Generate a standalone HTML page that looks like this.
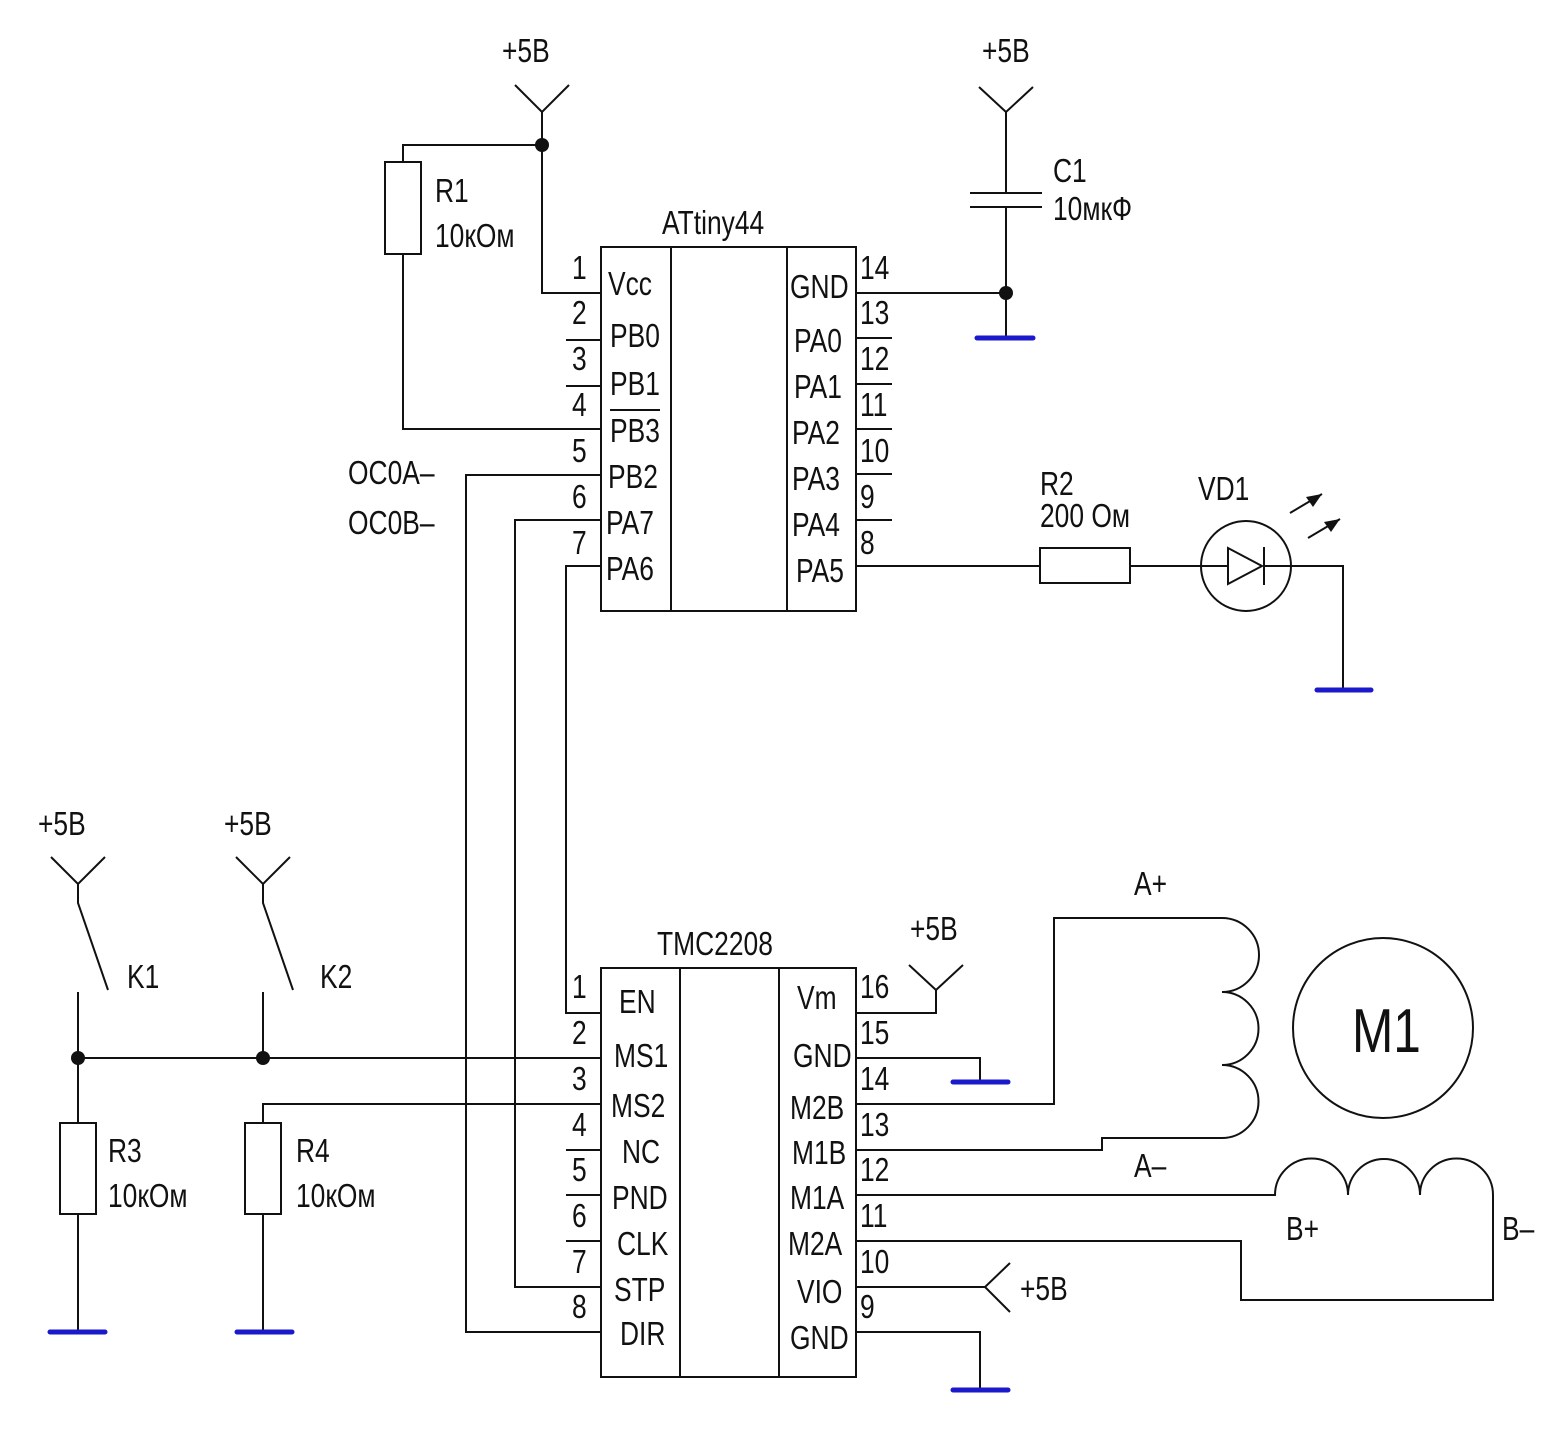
<!DOCTYPE html>
<html><head><meta charset="utf-8"><style>body{margin:0;background:#fff}svg{display:block}
text{font-family:"Liberation Sans Narrow","Liberation Sans",sans-serif;font-size:33px;fill:#111;transform-box:fill-box;transform-origin:left center;transform:scaleX(0.8)}
</style></head><body>
<svg width="1560" height="1456" viewBox="0 0 1560 1456" xmlns="http://www.w3.org/2000/svg">
<g fill="none" stroke="#111" stroke-width="2">
<rect x="601" y="247" width="255" height="364"/>
<line x1="671" y1="247" x2="671" y2="611"/><line x1="787" y1="247" x2="787" y2="611"/>
<polyline points="515,85 542,112 569,85"/>
<polyline points="542,112 542,293 601,293"/>
<polyline points="542,145 403,145 403,162"/>
<rect x="385" y="162" width="36" height="92"/>
<polyline points="403,254 403,429 601,429"/>
<line x1="566" y1="340" x2="601" y2="340"/><line x1="566" y1="386" x2="601" y2="386"/>
<line x1="610" y1="410" x2="660" y2="410"/>
<polyline points="601,475 466,475 466,1332 601,1332"/>
<polyline points="601,520 515,520 515,1287 601,1287"/>
<polyline points="601,566 566,566 566,1013 601,1013"/>
<line x1="856" y1="293" x2="1006" y2="293"/>
<line x1="856" y1="338" x2="892" y2="338"/><line x1="856" y1="384" x2="892" y2="384"/>
<line x1="856" y1="429" x2="892" y2="429"/><line x1="856" y1="474" x2="892" y2="474"/>
<line x1="856" y1="520" x2="892" y2="520"/>
<line x1="856" y1="566" x2="1040" y2="566"/>
<polyline points="979,87 1006,112 1033,87"/>
<line x1="1006" y1="112" x2="1006" y2="193"/>
<line x1="970" y1="193" x2="1042" y2="193"/><line x1="970" y1="207" x2="1042" y2="207"/>
<line x1="1006" y1="207" x2="1006" y2="338"/>
<rect x="1040" y="548" width="90" height="35"/>
<line x1="1130" y1="566" x2="1201" y2="566"/>
<circle cx="1246" cy="566" r="45"/>
<line x1="1201" y1="566" x2="1228" y2="566"/>
<polygon points="1228,548 1228,584 1262,566"/>
<line x1="1264" y1="547" x2="1264" y2="585"/>
<polyline points="1264,566 1343,566 1343,690"/>
<line x1="1290" y1="513" x2="1322" y2="494"/><line x1="1308" y1="538" x2="1340" y2="519"/>
<rect x="601" y="968" width="255" height="409"/>
<line x1="680" y1="968" x2="680" y2="1377"/><line x1="779" y1="968" x2="779" y2="1377"/>
<line x1="78" y1="1058" x2="601" y2="1058"/>
<polyline points="263,1123 263,1104 601,1104"/>
<line x1="566" y1="1150" x2="601" y2="1150"/><line x1="566" y1="1195" x2="601" y2="1195"/>
<line x1="566" y1="1241" x2="601" y2="1241"/>
<polyline points="909,965 936,990 963,965"/>
<polyline points="936,990 936,1013 856,1013"/>
<polyline points="856,1058 980,1058 980,1082"/>
<polyline points="856,1104 1054,1104 1054,918 1222,918"/>
<path d="M1222,918 A36,36 0 0 1 1222,992 A36,36 0 0 1 1222,1065 A36,36 0 0 1 1222,1138 L1102,1138 L1102,1150 L856,1150"/>
<path d="M856,1195 L1275,1195 A36,36 0 0 1 1348,1195 A36,36 0 0 1 1420,1195 A36,36 0 0 1 1493,1195 L1493,1300 L1241,1300 L1241,1241 L856,1241"/>
<polyline points="856,1287 985,1287"/>
<polyline points="1010,1263 985,1287 1010,1312"/>
<polyline points="856,1332 980,1332 980,1390"/>
<circle cx="1383" cy="1028" r="90"/>
<polyline points="51,857 78,884 105,857"/>
<polyline points="78,884 78,903 108,990"/>
<line x1="78" y1="992" x2="78" y2="1123"/>
<rect x="60" y="1123" width="36" height="91"/>
<line x1="78" y1="1214" x2="78" y2="1332"/>
<polyline points="236,857 263,884 290,857"/>
<polyline points="263,884 263,903 293,990"/>
<line x1="263" y1="992" x2="263" y2="1058"/>
<rect x="245" y="1123" width="36" height="91"/>
<line x1="263" y1="1214" x2="263" y2="1332"/>
</g>
<g fill="#111">
<polygon points="1322,494 1306,497 1313,507"/><polygon points="1340,519 1324,522 1331,532"/>
<circle cx="542" cy="145" r="7"/><circle cx="1006" cy="293" r="7"/>
<circle cx="78" cy="1058" r="7"/><circle cx="263" cy="1058" r="7"/>
</g>
<g stroke="#1a1acc" stroke-width="5" stroke-linecap="round">
<line x1="977" y1="338" x2="1033" y2="338"/><line x1="1317" y1="690" x2="1371" y2="690"/>
<line x1="953" y1="1082" x2="1008" y2="1082"/><line x1="953" y1="1390" x2="1008" y2="1390"/>
<line x1="50" y1="1332" x2="105" y2="1332"/><line x1="237" y1="1332" x2="292" y2="1332"/>
</g>
<text x="502" y="62">+5В</text><text x="982" y="62">+5В</text>
<text x="435" y="202">R1</text><text x="435" y="247">10кОм</text>
<text x="662" y="234">ATtiny44</text>
<text x="1053" y="182">C1</text><text x="1053" y="220">10мкФ</text>
<text x="1040" y="495">R2</text><text x="1040" y="527">200 Ом</text>
<text x="1198" y="500">VD1</text>
<text x="348" y="484">OC0A–</text><text x="348" y="534">OC0B–</text>
<text x="608" y="295">Vcc</text><text x="610" y="347">PB0</text><text x="610" y="395">PB1</text>
<text x="610" y="442">PB3</text><text x="608" y="488">PB2</text><text x="606" y="534">PA7</text><text x="606" y="580">PA6</text>
<text x="790" y="298">GND</text><text x="794" y="352">PA0</text><text x="794" y="398">PA1</text>
<text x="792" y="444">PA2</text><text x="792" y="490">PA3</text><text x="792" y="536">PA4</text><text x="796" y="582">PA5</text>
<text x="572" y="279">1</text><text x="572" y="324">2</text><text x="572" y="370">3</text><text x="572" y="416">4</text>
<text x="572" y="462">5</text><text x="572" y="508">6</text><text x="572" y="554">7</text>
<text x="860" y="279">14</text><text x="860" y="324">13</text><text x="860" y="370">12</text><text x="860" y="416">11</text>
<text x="860" y="462">10</text><text x="860" y="508">9</text><text x="860" y="554">8</text>
<text x="657" y="955">TMC2208</text><text x="910" y="940">+5В</text><text x="1020" y="1300">+5В</text>
<text x="619" y="1013">EN</text><text x="614" y="1067">MS1</text><text x="611" y="1117">MS2</text><text x="622" y="1163">NC</text>
<text x="612" y="1209">PND</text><text x="617" y="1255">CLK</text><text x="614" y="1301">STP</text><text x="620" y="1345">DIR</text>
<text x="797" y="1009">Vm</text><text x="793" y="1067">GND</text><text x="790" y="1119">M2B</text><text x="792" y="1164">M1B</text>
<text x="790" y="1209">M1A</text><text x="788" y="1255">M2A</text><text x="797" y="1303">VIO</text><text x="790" y="1349">GND</text>
<text x="572" y="998">1</text><text x="572" y="1044">2</text><text x="572" y="1090">3</text><text x="572" y="1136">4</text>
<text x="572" y="1181">5</text><text x="572" y="1227">6</text><text x="572" y="1273">7</text><text x="572" y="1318">8</text>
<text x="860" y="998">16</text><text x="860" y="1044">15</text><text x="860" y="1090">14</text><text x="860" y="1136">13</text>
<text x="860" y="1181">12</text><text x="860" y="1227">11</text><text x="860" y="1273">10</text><text x="860" y="1318">9</text>
<text x="1134" y="895">A+</text><text x="1134" y="1177">A–</text><text x="1286" y="1240">B+</text><text x="1502" y="1240">B–</text>
<text x="1352" y="1052" style="font-size:62px">M1</text>
<text x="38" y="835">+5В</text><text x="224" y="835">+5В</text>
<text x="127" y="988">K1</text><text x="320" y="988">K2</text>
<text x="108" y="1162">R3</text><text x="108" y="1207">10кОм</text>
<text x="296" y="1162">R4</text><text x="296" y="1207">10кОм</text>
</svg></body></html>
